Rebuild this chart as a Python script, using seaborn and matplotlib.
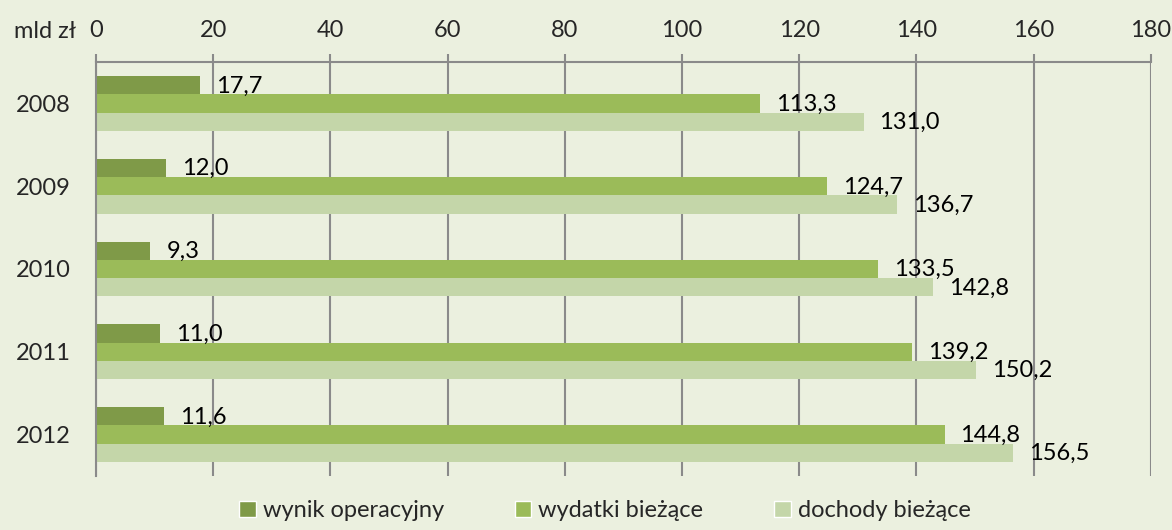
import matplotlib
matplotlib.use('Agg')
import matplotlib.pyplot as plt
import seaborn as sns
import pandas as pd
from matplotlib.patches import Patch

years = ['2008', '2009', '2010', '2011', '2012']
wynik_operacyjny = [17.7, 12.0, 9.3, 11.0, 11.6]
wydatki_biezace = [113.3, 124.7, 133.5, 139.2, 144.8]
dochody_biezace = [131.0, 136.7, 142.8, 150.2, 156.5]
series_names = ['wynik operacyjny', 'wydatki bieżące', 'dochody bieżące']
colors = ['#7f9a48', '#9bbb59', '#c4d6a9']
bg = '#ebf0df'

df = pd.DataFrame({
    'rok': years * 3,
    'seria': [series_names[0]] * 5 + [series_names[1]] * 5 + [series_names[2]] * 5,
    'wartosc': wynik_operacyjny + wydatki_biezace + dochody_biezace,
})

sns.set_style('white')
plt.rcParams['font.family'] = ['Lato', 'DejaVu Sans']
fs = 17

fig = plt.figure(figsize=(11.72, 5.30), dpi=100, facecolor=bg)
ax = fig.add_axes([0.0819, 0.102, 0.900, 0.781])
ax.set_facecolor(bg)

sns.barplot(data=df, x='wartosc', y='rok', hue='seria', hue_order=series_names,
            palette=colors, orient='h', width=0.66, saturation=1, ax=ax,
            legend=False, errorbar=None, linewidth=0)

# value labels
for container, vals in zip(ax.containers, [wynik_operacyjny, wydatki_biezace, dochody_biezace]):
    for bar, v in zip(container, vals):
        yc = bar.get_y() + bar.get_height() / 2
        ax.text(v + 2.7, yc + 0.01, f'{v:.1f}'.replace('.', ','), va='center', ha='left',
                fontsize=fs, color='black')

grid_c = '#8a8a8a'
ax.set_xlim(0, 180)
ax.set_xticks(range(0, 181, 20))
ax.xaxis.tick_top()
ax.tick_params(axis='x', direction='out', length=6, width=1.5, color=grid_c,
               labelsize=fs, pad=9)
ax.grid(axis='x', color=grid_c, linewidth=1.5)
ax.set_axisbelow(True)
ax.set_ylim(4.5, -0.5)
ax.set_yticks([i - 0.5 for i in range(6)])
ax.set_yticklabels([])
ax.set_yticks(range(5), minor=True)
ax.set_yticklabels(years, minor=True)
ax.tick_params(axis='y', which='major', direction='out', length=6, width=1.5, color=grid_c)
ax.tick_params(axis='y', which='minor', length=0, labelsize=fs, pad=18)
ax.set_xlabel('')
ax.set_ylabel('')
for s in ['right', 'bottom']:
    ax.spines[s].set_visible(False)
for s in ['top', 'left']:
    ax.spines[s].set_color(grid_c)
    ax.spines[s].set_linewidth(1.5)

fig.text(0.038, 0.941, 'mld zł', fontsize=fs, ha='center', va='center')

handles = [Patch(facecolor=c, label=n) for c, n in zip(colors, series_names)]
fig.legend(handles=handles, loc='center', bbox_to_anchor=(0.516, 0.036), ncol=3,
           frameon=False, fontsize=fs, handlelength=0.7, handleheight=0.7,
           handletextpad=0.3, columnspacing=3.0)

fig.savefig('out.png', dpi=100, facecolor=bg)
